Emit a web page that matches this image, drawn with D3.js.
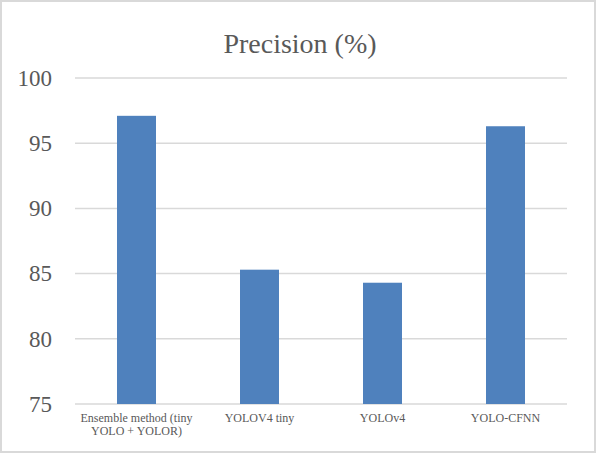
<!DOCTYPE html>
<html>
<head>
<meta charset="utf-8">
<script src="https://cdn.jsdelivr.net/npm/d3@7"></script>
</head>
<body style="margin:0">
<script>
// data
const categories = ["Ensemble method (tiny YOLO + YOLOR)", "YOLOV4 tiny", "YOLOv4", "YOLO-CFNN"];
const labelLines = [["Ensemble method (tiny", "YOLO + YOLOR)"], ["YOLOV4 tiny"], ["YOLOv4"], ["YOLO-CFNN"]];
const precision = [97.1, 85.3, 84.3, 96.3];
const yTicks = [75, 80, 85, 90, 95, 100];

const FONT = "Liberation Serif";
const W = 600, H = 455;
const margin = { top: 78, right: 33, bottom: 51, left: 75 };
const width = W - margin.left - margin.right;
const height = H - margin.top - margin.bottom;

const svg = d3.select("body")
    .append("svg")
    .attr("width", W)
    .attr("height", H)
    .attr("font-family", FONT);

// outer frame
svg.append("rect")
    .attr("x", 1).attr("y", 1)
    .attr("width", 594).attr("height", 451)
    .attr("fill", "#fff")
    .attr("stroke", "#d9d9d9")
    .attr("stroke-width", 2);

svg.append("text")
    .attr("x", 300)
    .attr("y", 53)
    .attr("text-anchor", "middle")
    .attr("font-size", 28)
    .attr("fill", "#595959")
    .attr("font-family", FONT)
    .style("font-family", `"${FONT}"`)
    .text("Precision (%)");

const g = svg.append("g")
    .attr("transform", `translate(${margin.left},${margin.top})`);

const x = d3.scaleBand()
    .domain(categories)
    .range([0, width])
    .paddingInner(0.683)
    .paddingOuter(0.3415);

const y = d3.scaleLinear()
    .domain([75, 100])
    .range([height, 0]);

// gridlines
g.append("g")
    .selectAll("line")
    .data(yTicks)
    .enter()
    .append("line")
    .attr("x1", 0)
    .attr("x2", width)
    .attr("y1", d => y(d))
    .attr("y2", d => y(d))
    .attr("stroke", "#d9d9d9")
    .attr("stroke-width", 1.5);

// y labels
const yAxis = g.append("g")
    .call(d3.axisLeft(y).tickValues(yTicks).tickSize(0).tickPadding(23))
    .attr("font-family", FONT)
    .attr("font-size", 23);
yAxis.select(".domain").remove();
yAxis.selectAll("text")
    .attr("font-family", FONT)
    .style("font-family", `"${FONT}"`)
    .attr("fill", "#595959");

// bars
g.selectAll("rect.bar")
    .data(precision)
    .enter()
    .append("rect")
    .attr("class", "bar")
    .attr("x", (d, i) => x(categories[i]))
    .attr("y", d => y(d))
    .attr("width", x.bandwidth())
    .attr("height", d => height - y(d))
    .attr("fill", "#4f81bd");

// x labels
const xl = g.append("g")
    .selectAll("text")
    .data(categories)
    .enter()
    .append("text")
    .attr("x", d => x(d) + x.bandwidth() / 2)
    .attr("y", height + 18)
    .attr("text-anchor", "middle")
    .attr("font-size", 12)
    .attr("fill", "#595959")
    .attr("font-family", FONT)
    .style("font-family", `"${FONT}"`);
xl.selectAll("tspan")
    .data((d, i) => labelLines[i])
    .enter()
    .append("tspan")
    .attr("x", function () { return d3.select(this.parentNode).attr("x"); })
    .attr("dy", (d, i) => i === 0 ? 0 : 13)
    .text(d => d);
</script>
</body>
</html>
